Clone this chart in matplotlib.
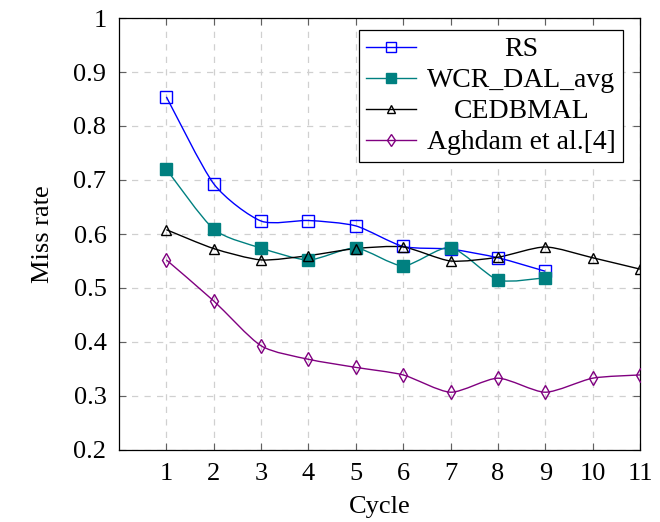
import matplotlib.pyplot as plt
import numpy as np
from matplotlib.path import Path
from matplotlib.patches import PathPatch
from matplotlib.lines import Line2D

plt.rcParams['font.family'] = ['Liberation Serif', 'DejaVu Serif']

cycles_long = [1, 2, 3, 4, 5, 6, 7, 8, 9, 10, 11]
cycles_short = [1, 2, 3, 4, 5, 6, 7, 8, 9]

rs = [0.854, 0.693, 0.624, 0.625, 0.615, 0.577, 0.572, 0.556, 0.531]
wcr = [0.720, 0.609, 0.574, 0.552, 0.574, 0.541, 0.575, 0.515, 0.519]
cedbmal = [0.608, 0.573, 0.552, 0.560, 0.573, 0.576, 0.550, 0.557, 0.576, 0.556, 0.535]
aghdam = [0.552, 0.476, 0.393, 0.368, 0.353, 0.339, 0.307, 0.333, 0.307, 0.333, 0.339]

labels = ['RS', 'WCR_DAL_avg', 'CEDBMAL', 'Aghdam et al.[4]']


def smooth_path(x, y, k=0.12):
    # tikz-like smooth curve through points (cubic bezier segments)
    pts = np.column_stack([x, y]).astype(float)
    n = len(pts)
    verts = [pts[0]]
    codes = [Path.MOVETO]
    for i in range(n - 1):
        p0 = pts[max(i - 1, 0)]
        p1 = pts[i]
        p2 = pts[i + 1]
        p3 = pts[min(i + 2, n - 1)]
        c1 = p1 + (p2 - p0) * k
        c2 = p2 - (p3 - p1) * k
        verts += [c1, c2, p2]
        codes += [Path.CURVE4] * 3
    return Path(verts, codes)


fig = plt.figure(figsize=(6.6, 5.22), dpi=100)
ax = fig.add_axes([119 / 660, 72 / 522, 521 / 660, 432 / 522])

series = [
    (cycles_short, rs, 'blue', 's', 'none', 8.5),
    (cycles_short, wcr, '#008080', 's', '#008080', 8.5),
    (cycles_long, cedbmal, 'black', '^', 'none', 7),
    (cycles_long, aghdam, '#800080', 'd', 'none', 7.5),
]

handles = []
for (xs, ys, col, mk, fc, ms), lab in zip(series, labels):
    patch = PathPatch(smooth_path(xs, ys), facecolor='none', edgecolor=col, lw=1.0, zorder=3)
    ax.add_patch(patch)
    ax.plot(xs, ys, linestyle='none', marker=mk, markersize=ms, markerfacecolor=fc,
            markeredgecolor=col, markeredgewidth=1.0, zorder=4)
    handles.append(Line2D([], [], color=col, lw=1.0, marker=mk, markersize=ms * 0.8,
                          markerfacecolor=fc, markeredgecolor=col, markeredgewidth=1.0))

ax.set_xlim(0, 11)
ax.set_ylim(0.2, 1.0)
ax.set_xticks(cycles_long)
ax.set_yticks(np.arange(0.2, 1.01, 0.1))
ax.set_yticklabels(['0.2', '0.3', '0.4', '0.5', '0.6', '0.7', '0.8', '0.9', '1'])
ax.tick_params(direction='in', length=5, width=0.8, color='#606060', labelsize=19,
               top=True, right=True, pad=9)
ax.grid(True, color='#d0d0d0', linestyle=(0, (5, 5)), lw=0.9)
ax.set_axisbelow(True)
for s in ax.spines.values():
    s.set_linewidth(0.9)

ax.set_xlabel('Cycle', fontsize=19, labelpad=8)
ax.set_ylabel('Miss rate', fontsize=19, labelpad=14)

leg = ax.legend(handles, labels, loc='upper right', bbox_to_anchor=(0.967, 0.972),
                borderaxespad=0, fontsize=20, frameon=True, fancybox=False,
                edgecolor='black', framealpha=1, handlelength=1.8, handletextpad=0.4,
                borderpad=0.25, labelspacing=0.2)
leg.get_frame().set_linewidth(0.9)

fig.canvas.draw()
renderer = fig.canvas.get_renderer()
texts = leg.get_texts()
widths = [t.get_window_extent(renderer).width for t in texts]
maxw = max(widths)
for t, w in zip(texts, widths):
    t.set_position(((maxw - w) / 2, 0))

fig.savefig('out.png', dpi=100)
